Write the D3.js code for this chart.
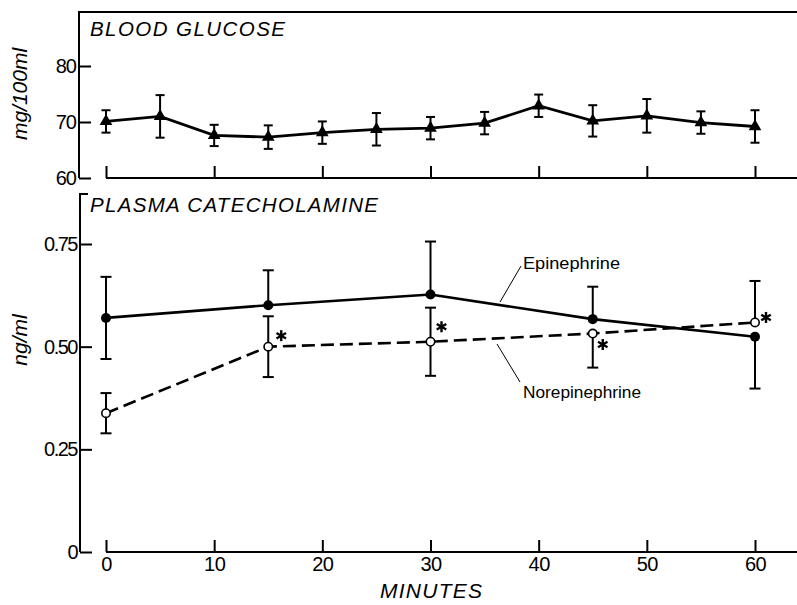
<!DOCTYPE html>
<html>
<head>
<meta charset="utf-8">
<script src="https://cdn.jsdelivr.net/npm/d3@7/dist/d3.min.js"></script>
<style>
  html, body { margin: 0; padding: 0; background: #fff; }
  svg { display: block; }
  text { font-family: "Liberation Sans", Arial, sans-serif; fill: #000; }
</style>
</head>
<body>
<svg id="chart" width="797" height="605"></svg>
<script>
// ---------- data ----------
const glucoseMinutes = [0, 5, 10, 15, 20, 25, 30, 35, 40, 45, 50, 55, 60];
const glucoseMean    = [70.1, 71.0, 67.6, 67.3, 68.1, 68.7, 68.9, 69.8, 72.9, 70.2, 71.1, 69.9, 69.2];
const glucoseErr     = [2.0, 3.8, 1.9, 2.1, 2.0, 2.9, 2.0, 2.0, 2.0, 2.8, 3.0, 2.0, 2.9];

const catMinutes   = [0, 15, 30, 45, 60];
const epiMean      = [0.570, 0.601, 0.627, 0.567, 0.524];
const epiErr       = [0.100, 0.085, 0.129, 0.079, 0.126];
const epiErrSide   = ["both", "up", "up", "up", "down"];
const norepiMean   = [0.338, 0.500, 0.512, 0.532, 0.559];
const norepiErr    = [0.049, 0.074, 0.083, 0.083, 0.101];
const norepiErrSide = ["both", "both", "both", "down", "up"];
const norepiSig    = [false, true, true, true, true];

const minuteTicks  = [0, 10, 20, 30, 40, 50, 60];
const glucoseTicks = [60, 70, 80];
const catTicks     = [0, 0.25, 0.5, 0.75];
const catTickLabels = ["0", "0.25", "0.50", "0.75"];

// ---------- layout ----------
const svg = d3.select("#chart");
const x = d3.scaleLinear().domain([0, 60]).range([106, 755]);
const yTop = d3.scaleLinear().domain([60, 80]).range([178, 66]);
const yBot = d3.scaleLinear().domain([0, 0.75]).range([552, 244]);
const topPanelMax = 89.65;
const botPanelMax = 0.872;
const xAxisLeft = 79;
const rightEdge = 797;
const axisW = 2;
const tickFont = "Liberation Sans, Arial, sans-serif";

// ---------- top panel ----------
const gTop = svg.append("g");
gTop.append("path")
  .attr("d", `M${rightEdge},${yTop(topPanelMax)} H${xAxisLeft} V${yTop(60)}`)
  .attr("fill", "none").attr("stroke", "#000").attr("stroke-width", axisW);

const yAxTop = d3.axisLeft(yTop).tickValues(glucoseTicks).tickSize(-12).tickPadding(3);
const gyTop = gTop.append("g").attr("transform", `translate(${xAxisLeft},0)`).call(yAxTop);
gyTop.select(".domain").remove();
gyTop.selectAll(".tick line").attr("stroke-width", axisW);
gyTop.selectAll(".tick text").attr("font-size", 20).attr("letter-spacing", -1).attr("font-family", tickFont);

const xAxTop = d3.axisBottom(x).tickValues(minuteTicks).tickSize(-12).tickFormat("");
const gxTop = gTop.append("g").attr("transform", `translate(0,${yTop(60)})`).call(xAxTop);
gxTop.select(".domain").remove();
gxTop.selectAll(".tick line").attr("stroke-width", axisW);
gTop.append("line").attr("x1", x(0)).attr("x2", rightEdge)
  .attr("y1", yTop(60)).attr("y2", yTop(60))
  .attr("stroke", "#000").attr("stroke-width", axisW);

gTop.append("text").attr("x", 90).attr("y", 36)
  .attr("font-size", 20.5).attr("font-style", "italic")
  .attr("textLength", 195).attr("lengthAdjust", "spacing")
  .text("BLOOD GLUCOSE");
gTop.append("text").attr("transform", `translate(27,${94}) rotate(-90)`)
  .attr("text-anchor", "middle").attr("font-size", 21).attr("font-style", "italic")
  .text("mg/100ml");

const glu = glucoseMinutes.map((m, i) => ({m, v: glucoseMean[i], e: glucoseErr[i]}));
const capTop = 4.5;
const gErr = gTop.append("g").attr("stroke", "#000").attr("stroke-width", 2);
glu.forEach(d => {
  const cx = x(d.m), y1 = yTop(d.v + d.e), y2 = yTop(d.v - d.e);
  gErr.append("line").attr("x1", cx).attr("x2", cx).attr("y1", y1).attr("y2", y2);
  gErr.append("line").attr("x1", cx - capTop).attr("x2", cx + capTop).attr("y1", y1).attr("y2", y1);
  gErr.append("line").attr("x1", cx - capTop).attr("x2", cx + capTop).attr("y1", y2).attr("y2", y2);
});
gTop.append("path").datum(glu)
  .attr("d", d3.line().x(d => x(d.m)).y(d => yTop(d.v)))
  .attr("fill", "none").attr("stroke", "#000").attr("stroke-width", 2.8);
gTop.selectAll("path.tri").data(glu).join("path").attr("class", "tri")
  .attr("d", d3.symbol(d3.symbolTriangle, 70))
  .attr("transform", d => `translate(${x(d.m)},${yTop(d.v)})`)
  .attr("fill", "#000");

// ---------- bottom panel ----------
const gBot = svg.append("g");
const xAxisLeftB = 80;
gBot.append("path")
  .attr("d", `M${xAxisLeftB + 8},${yBot(botPanelMax)} H${xAxisLeftB} V${yBot(0)}`)
  .attr("fill", "none").attr("stroke", "#000").attr("stroke-width", axisW);

const yAxBot = d3.axisLeft(yBot).tickValues(catTicks).tickSize(-12).tickPadding(3)
  .tickFormat((d, i) => catTickLabels[i]);
const gyBot = gBot.append("g").attr("transform", `translate(${xAxisLeftB},0)`).call(yAxBot);
gyBot.select(".domain").remove();
gyBot.selectAll(".tick line").attr("stroke-width", axisW);
gyBot.selectAll(".tick text").attr("font-size", 20).attr("letter-spacing", -1.5).attr("font-family", tickFont);

const xAxBot = d3.axisBottom(x).tickValues(minuteTicks).tickSize(-12).tickPadding(5);
const gxBot = gBot.append("g").attr("transform", `translate(0,${yBot(0)})`).call(xAxBot);
gxBot.select(".domain").remove();
gxBot.selectAll(".tick line").attr("stroke-width", axisW);
gxBot.selectAll(".tick text").attr("font-size", 20).attr("letter-spacing", -0.5).attr("font-family", tickFont);
gBot.append("line").attr("x1", x(0)).attr("x2", rightEdge)
  .attr("y1", yBot(0)).attr("y2", yBot(0))
  .attr("stroke", "#000").attr("stroke-width", axisW);

gBot.append("text").attr("x", 90).attr("y", 212)
  .attr("font-size", 20.5).attr("font-style", "italic")
  .attr("textLength", 288).attr("lengthAdjust", "spacing")
  .text("PLASMA CATECHOLAMINE");
gBot.append("text").attr("transform", `translate(27,${340}) rotate(-90)`)
  .attr("text-anchor", "middle").attr("font-size", 21).attr("font-style", "italic")
  .text("ng/ml");
gBot.append("text").attr("x", 431).attr("y", 598)
  .attr("text-anchor", "middle").attr("font-size", 21).attr("font-style", "italic")
  .attr("textLength", 102).attr("lengthAdjust", "spacing")
  .text("MINUTES");

const epi = catMinutes.map((m, i) => ({m, v: epiMean[i], e: epiErr[i], side: epiErrSide[i]}));
const nor = catMinutes.map((m, i) => ({m, v: norepiMean[i], e: norepiErr[i], side: norepiErrSide[i], s: norepiSig[i]}));
const capB = 5.5;
const gErrB = gBot.append("g").attr("stroke", "#000").attr("stroke-width", 2);
function errBar(d) {
  const cx = x(d.m), y0 = yBot(d.v);
  const ends = [];
  if (d.side !== "down") ends.push(yBot(d.v + d.e));
  if (d.side !== "up") ends.push(yBot(d.v - d.e));
  ends.forEach(ye => {
    gErrB.append("line").attr("x1", cx).attr("x2", cx).attr("y1", y0).attr("y2", ye);
    gErrB.append("line").attr("x1", cx - capB).attr("x2", cx + capB).attr("y1", ye).attr("y2", ye);
  });
}
epi.forEach(errBar);
nor.forEach(errBar);

const lineB = d3.line().x(d => x(d.m)).y(d => yBot(d.v));
gBot.append("path").datum(epi).attr("d", lineB)
  .attr("fill", "none").attr("stroke", "#000").attr("stroke-width", 2.6);
gBot.append("path").datum(nor).attr("d", lineB)
  .attr("fill", "none").attr("stroke", "#000").attr("stroke-width", 2.6)
  .attr("stroke-dasharray", "13,6");

gBot.selectAll("circle.epi").data(epi).join("circle").attr("class", "epi")
  .attr("cx", d => x(d.m)).attr("cy", d => yBot(d.v)).attr("r", 5)
  .attr("fill", "#000");
gBot.selectAll("circle.nor").data(nor).join("circle").attr("class", "nor")
  .attr("cx", d => x(d.m)).attr("cy", d => yBot(d.v)).attr("r", 4.2)
  .attr("fill", "#fff").attr("stroke", "#000").attr("stroke-width", 1.6);

// significance asterisks (drawn as 6-armed stars)
const astOffsets = {15: [13, -11], 30: [11, -15], 45: [10, 11], 60: [11, -5]};
const astArm = 5.5;
const gAst = gBot.append("g").attr("stroke", "#000").attr("stroke-width", 2.4).attr("stroke-linecap", "butt");
nor.filter(d => d.s).forEach(d => {
  const cx = x(d.m) + astOffsets[d.m][0], cy = yBot(d.v) + astOffsets[d.m][1];
  [90, 30, 150].forEach(a => {
    const r = a * Math.PI / 180;
    gAst.append("line")
      .attr("x1", cx - astArm * Math.cos(r)).attr("y1", cy - astArm * Math.sin(r))
      .attr("x2", cx + astArm * Math.cos(r)).attr("y2", cy + astArm * Math.sin(r));
  });
});

// labels with leader lines
gBot.append("text").attr("x", 523).attr("y", 269).attr("font-size", 16.5)
  .attr("textLength", 97).attr("lengthAdjust", "spacingAndGlyphs")
  .text("Epinephrine");
gBot.append("line").attr("x1", 521).attr("y1", 266).attr("x2", 500).attr("y2", 302)
  .attr("stroke", "#000").attr("stroke-width", 1);
gBot.append("text").attr("x", 523).attr("y", 398).attr("font-size", 16.5)
  .attr("textLength", 118).attr("lengthAdjust", "spacingAndGlyphs")
  .text("Norepinephrine");
gBot.append("line").attr("x1", 497).attr("y1", 344).attr("x2", 520).attr("y2", 382)
  .attr("stroke", "#000").attr("stroke-width", 1);
</script>
</body>
</html>
